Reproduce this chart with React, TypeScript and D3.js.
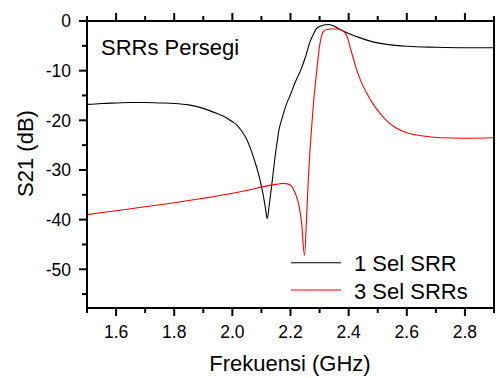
import React from "react";
import * as d3 from "d3";

const sel1: [number, number][] = [
  [1.5, -16.8], [1.55, -16.6], [1.6, -16.5], [1.65, -16.4], [1.7, -16.4], [1.75, -16.5],
  [1.8, -16.6], [1.85, -16.9], [1.9, -17.6], [1.95, -18.7], [1.97, -19.2], [2.0, -20.3],
  [2.015, -20.9], [2.03, -22.0], [2.05, -23.9], [2.06, -25.3], [2.072, -27.3], [2.08, -28.8],
  [2.089, -30.6], [2.1, -33.3], [2.107, -35.3], [2.114, -37.8], [2.12, -39.8], [2.127, -37.0],
  [2.135, -33.3], [2.141, -30.3], [2.147, -27.3], [2.155, -24.0], [2.16, -22.0], [2.17, -19.8],
  [2.187, -16.6], [2.2, -14.8], [2.215, -12.5], [2.233, -10.2], [2.25, -7.5], [2.267, -4.2],
  [2.28, -2.5], [2.29, -1.5], [2.3, -1.1], [2.315, -0.8], [2.33, -0.7], [2.345, -0.9],
  [2.37, -1.7], [2.4, -2.5], [2.43, -3.2], [2.46, -3.8], [2.49, -4.3], [2.53, -4.7],
  [2.6, -5.1], [2.7, -5.3], [2.8, -5.4], [2.9, -5.4],
];

const sel3: [number, number][] = [
  [1.5, -39.0], [1.6, -38.2], [1.7, -37.4], [1.8, -36.6], [1.9, -35.7], [2.0, -34.7],
  [2.06, -34.0], [2.11, -33.3], [2.15, -32.9], [2.175, -32.7], [2.19, -32.8], [2.204, -33.3],
  [2.215, -34.5], [2.227, -36.6], [2.238, -40.5], [2.248, -47.2], [2.256, -38.6], [2.262, -31.0],
  [2.267, -26.0], [2.272, -22.0], [2.279, -16.6], [2.29, -10.2], [2.3, -5.0], [2.307, -3.0],
  [2.315, -2.0], [2.325, -1.7], [2.34, -1.6], [2.36, -1.6], [2.375, -1.8], [2.388, -2.4],
  [2.397, -3.5], [2.405, -5.3], [2.415, -7.3], [2.428, -9.9], [2.44, -11.8], [2.462, -14.5],
  [2.485, -16.8], [2.508, -18.6], [2.535, -20.3], [2.565, -21.6], [2.6, -22.5], [2.65, -23.1],
  [2.714, -23.5], [2.8, -23.6], [2.9, -23.5],
];

const xMajor = [1.6, 1.8, 2.0, 2.2, 2.4, 2.6, 2.8];
const xMinor = [1.5, 1.7, 1.9, 2.1, 2.3, 2.5, 2.7, 2.9];
const yMajor = [0, -10, -20, -30, -40, -50];
const yMinor = [-5, -15, -25, -35, -45, -55];

const FONT = "'Liberation Sans', Arial, sans-serif";

export default function App() {
  const W = 497, H = 378;
  const L = 87, R = 494, T = 21, B = 308;
  const x = d3.scaleLinear().domain([1.5, 2.9]).range([L, R]);
  const y = d3.scaleLinear().domain([-57.8, 0]).range([B, T]);
  const line = d3.line<[number, number]>().x(d => x(d[0])).y(d => y(d[1])).curve(d3.curveMonotoneX);

  return (
    <svg width={W} height={H} style={{ position: "absolute", left: 0, top: 0, background: "#fff" }} fontFamily={FONT}>
      <defs>
        <clipPath id="plot"><rect x={L} y={T} width={R - L} height={B - T} /></clipPath>
      </defs>
      <g clipPath="url(#plot)">
        <path d={line(sel1) || ""} fill="none" stroke="#000" strokeWidth={1.1} />
        <path d={line(sel3) || ""} fill="none" stroke="#ff0000" strokeWidth={1.1} />
      </g>
      <rect x={L} y={T} width={R - L} height={B - T} fill="none" stroke="#000" strokeWidth={2} />
      {xMajor.map(v => (
        <g key={"xm" + v}>
          <line x1={x(v)} x2={x(v)} y1={B} y2={B + 8} stroke="#000" strokeWidth={2} />
          <line x1={x(v)} x2={x(v)} y1={T} y2={T - 8} stroke="#000" strokeWidth={2} />
          <text x={x(v)} y={338} fontSize={17.5} textAnchor="middle" fill="#000">{v.toFixed(1)}</text>
        </g>
      ))}
      {xMinor.map(v => (
        <g key={"xn" + v}>
          <line x1={x(v)} x2={x(v)} y1={B} y2={B + 5} stroke="#000" strokeWidth={2} />
          <line x1={x(v)} x2={x(v)} y1={T} y2={T - 5} stroke="#000" strokeWidth={2} />
        </g>
      ))}
      {yMajor.map(v => (
        <g key={"ym" + v}>
          <line x1={L} x2={L - 8} y1={y(v)} y2={y(v)} stroke="#000" strokeWidth={2} />
          <text x={71} y={y(v) + 6.3} fontSize={17.5} textAnchor="end" fill="#000">{v === 0 ? "0" : "-" + Math.abs(v)}</text>
        </g>
      ))}
      {yMinor.map(v => (
        <line key={"yn" + v} x1={L} x2={L - 5} y1={y(v)} y2={y(v)} stroke="#000" strokeWidth={2} />
      ))}
      <text x={290} y={371} fontSize={22} textAnchor="middle" fill="#000">Frekuensi (GHz)</text>
      <text transform={`translate(33,${153.5}) rotate(-90)`} fontSize={22} textAnchor="middle" fill="#000">S21 (dB)</text>
      <text x={101} y={55} fontSize={22} fill="#000">SRRs Persegi</text>
      <line x1={291} x2={341} y1={262.7} y2={262.7} stroke="#000" strokeWidth={1.1} />
      <text x={354} y={271} fontSize={22} fill="#000">1 Sel SRR</text>
      <line x1={291} x2={341} y1={290} y2={290} stroke="#ff0000" strokeWidth={1.1} />
      <text x={354} y={299} fontSize={22} fill="#000">3 Sel SRRs</text>
    </svg>
  );
}
